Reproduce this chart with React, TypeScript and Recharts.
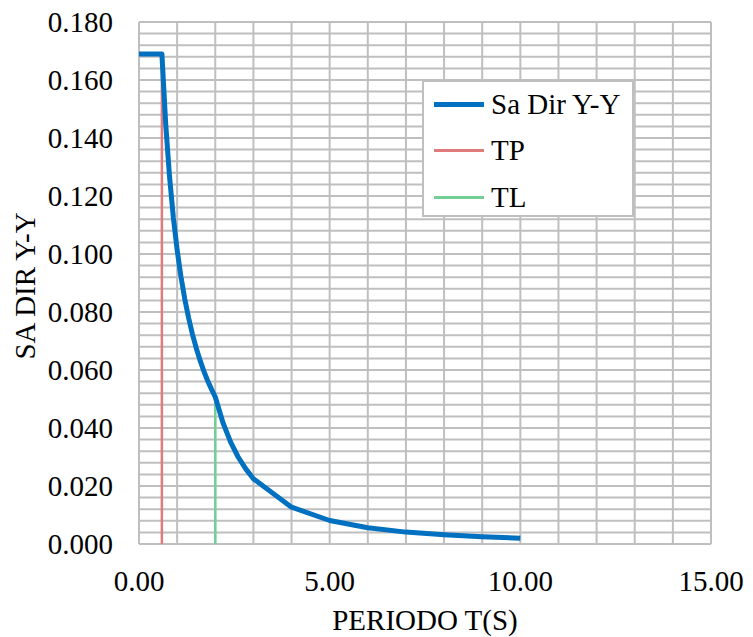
import { LineChart, Line, XAxis, YAxis, CartesianGrid } from "recharts";

// periodo T (s) and spectral acceleration
const periods = [0, 0.6, 0.7, 0.8, 0.9, 1.0, 1.1, 1.2, 1.3, 1.4, 1.5, 1.6, 1.7, 1.8, 1.9, 2.0, 2.2, 2.4, 2.6, 2.8, 3.0, 4, 5, 6, 7, 8, 9, 10];
const saDirYY = [0.169, 0.169, 0.1449, 0.1268, 0.1127, 0.1014, 0.0922, 0.0845, 0.078, 0.0724, 0.0676, 0.0634, 0.0596, 0.0563, 0.0534, 0.0507, 0.0419, 0.0352, 0.03, 0.0259, 0.0225, 0.0127, 0.0081, 0.0056, 0.0041, 0.0032, 0.0025, 0.002];

const tpPeriods = [0.6, 0.6];
const tpValues = [0, 0.169];
const tlPeriods = [2.0, 2.0];
const tlValues = [0, 0.0507];

const xTickLabels = [0, 5, 10, 15];
const yTickLabels = [0, 0.02, 0.04, 0.06, 0.08, 0.1, 0.12, 0.14, 0.16, 0.18];

const seriesNames = ["Sa Dir Y-Y", "TP", "TL"];
const seriesColors = ["#0070C0", "#E07B7B", "#74CF96"];

const saData = periods.map((t, i) => ({ x: t, y: saDirYY[i] }));
const tpData = tpPeriods.map((t, i) => ({ x: t, y: tpValues[i] }));
const tlData = tlPeriods.map((t, i) => ({ x: t, y: tlValues[i] }));

// minor gridlines: x every 1, y every 0.004 (Excel default major/5)
const xGrid = Array.from({ length: 16 }, (_, i) => i);
const yGrid = Array.from({ length: 46 }, (_, i) => +(i * 0.004).toFixed(3));

const font = "Liberation Serif";
const fs = 29;
const tickStyle = { fontFamily: font, fontSize: fs, fill: "#000" };

const isMajorX = (v: number) => xTickLabels.includes(v);
const isMajorY = (v: number) => yTickLabels.some((t) => Math.abs(t - v) < 1e-6);

const YTitle = () => (
  <text
    x={17}
    y={286}
    transform="rotate(-90, 17, 286)"
    textAnchor="middle"
    dominantBaseline="central"
    style={{ fontFamily: font, fontSize: fs, fill: "#000" }}
  >
    SA DIR Y-Y
  </text>
);

export default function App() {
  return (
    <div style={{ position: "relative", width: 737, height: 637, marginTop: -8, fontFamily: font }}>
      <LineChart
        width={737}
        height={637}
        margin={{ top: 22, right: 34, bottom: 0, left: 0 }}
        style={{ fontFamily: font }}
      >
        <CartesianGrid stroke="#BFBFBF" strokeWidth={2} />
        <XAxis
          type="number"
          dataKey="x"
          domain={[0, 15]}
          ticks={xGrid}
          interval={0}
          allowDataOverflow
          axisLine={false}
          tickLine={false}
          tickMargin={20}
          height={93}
          tick={tickStyle}
          tickFormatter={(v: number) => (isMajorX(v) ? v.toFixed(2) : "")}
          label={{
            value: "PERIODO T(S)",
            position: "insideBottom",
            offset: 7,
            style: { fontFamily: font, fontSize: fs, fill: "#000" },
          }}
        />
        <YAxis
          type="number"
          dataKey="y"
          domain={[0, 0.18]}
          ticks={yGrid}
          interval={0}
          allowDataOverflow
          axisLine={false}
          tickLine={false}
          tickMargin={20}
          width={131}
          tick={tickStyle}
          tickFormatter={(v: number) => (isMajorY(v) ? v.toFixed(3) : "")}
          label={{ content: () => <YTitle /> }}
        />
        <Line
          data={tpData}
          dataKey="y"
          name={seriesNames[1]}
          stroke={seriesColors[1]}
          strokeWidth={2.5}
          dot={false}
          isAnimationActive={false}
        />
        <Line
          data={tlData}
          dataKey="y"
          name={seriesNames[2]}
          stroke={seriesColors[2]}
          strokeWidth={2.5}
          dot={false}
          isAnimationActive={false}
        />
        <Line
          data={saData}
          dataKey="y"
          name={seriesNames[0]}
          type="linear"
          stroke={seriesColors[0]}
          strokeWidth={5}
          strokeLinejoin="round"
          dot={false}
          isAnimationActive={false}
        />
      </LineChart>

      <div
        style={{
          position: "absolute",
          left: 414,
          top: 80,
          width: 208,
          height: 133,
          background: "#fff",
          border: "2px solid #BFBFBF",
          fontFamily: font,
          fontSize: fs,
          color: "#000",
        }}
      >
        {seriesNames.map((name, i) => (
          <div
            key={name}
            style={{
              position: "absolute",
              left: 10,
              top: 7 + i * 46.5,
              height: 30,
              display: "flex",
              alignItems: "center",
              whiteSpace: "nowrap",
            }}
          >
            <span
              style={{
                display: "inline-block",
                width: 50,
                height: i === 0 ? 5 : 3,
                background: seriesColors[i],
                marginRight: 7,
              }}
            />
            {name}
          </div>
        ))}
      </div>
    </div>
  );
}
